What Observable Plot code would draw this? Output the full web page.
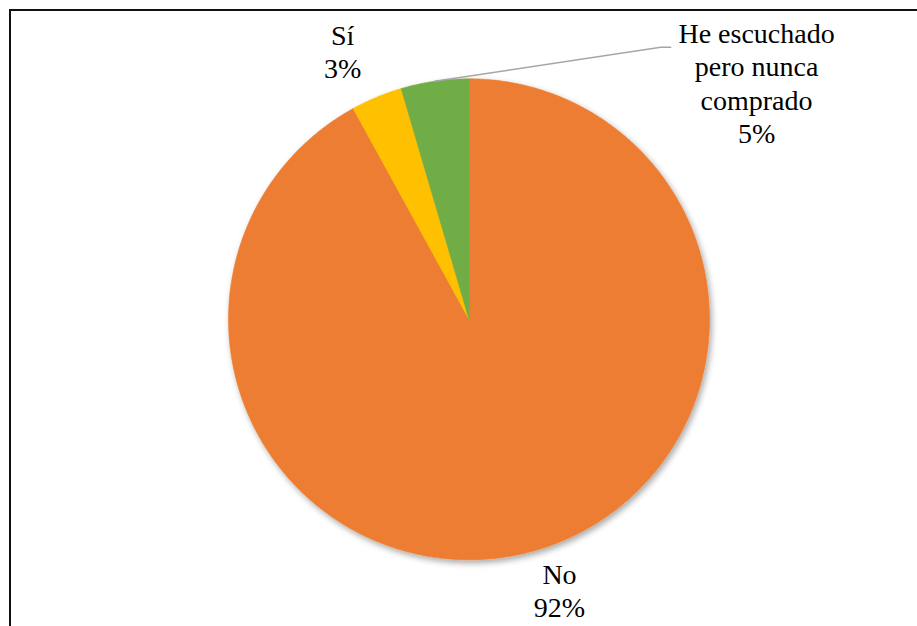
<!DOCTYPE html>
<html>
<head>
<meta charset="utf-8">
<script src="https://cdn.jsdelivr.net/npm/d3@7"></script>
<script src="https://cdn.jsdelivr.net/npm/@observablehq/plot@0.6"></script>
<style>
  html, body { margin: 0; padding: 0; width: 917px; height: 626px; overflow: hidden; background: #fff;
    font-family: "Liberation Serif", "Times New Roman", Tinos, "DejaVu Serif", serif; }
  #frame { position: absolute; left: 9px; top: 9px; width: 1200px; height: 1200px; border: 2px solid #111; }
  #chart { position: absolute; left: 0; top: 0; }
  #chart svg text { font-family: "Liberation Serif", "Times New Roman", Tinos, "DejaVu Serif", serif !important; }
</style>
</head>
<body>
<div id="frame"></div>
<div id="chart"></div>
<script>
// ---- data ----
const names = ["No", "Sí", "He escuchado pero nunca comprado"];
const labelLines = [["No"], ["Sí"], ["He escuchado", "pero nunca", "comprado"]];
const values = [92.0, 3.45, 4.55];
const colors = ["#ED7D31", "#FFC000", "#70AD47"];

// ---- layout ----
const W = 917, H = 626, CX = 468.5, CY = 318.8, R = 240.5;
const LINE = 33.3; // px between label lines
const labelOffsets = [[30.7, 12], [-34, -72], [321.8, -58]]; // px from slice edge midpoint
const leaderIndex = 2;
const leaderBend = [[226, -34], [236, -34]]; // px from slice edge midpoint
const FONT = "'Liberation Serif', 'Times New Roman', Tinos, 'DejaVu Serif', serif";

const total = d3.sum(values);
const arcs = d3.pie().sort(null).value(d => d)(values);

const slices = arcs.map((a, i) => ({
  name: names[i],
  color: colors[i],
  lines: [...labelLines[i], `${Math.round(values[i] / total * 100)}%`],
  a0: a.startAngle, a1: a.endAngle, mid: (a.startAngle + a.endAngle) / 2
}));

function slicePoints(s) {
  const n = Math.max(2, Math.ceil((s.a1 - s.a0) / (Math.PI / 360)));
  const pts = [{x: 0, y: 0}];
  for (let k = 0; k <= n; k++) {
    const t = s.a0 + (s.a1 - s.a0) * k / n;
    pts.push({x: Math.sin(t), y: Math.cos(t)});
  }
  pts.push({x: 0, y: 0});
  return pts;
}

const edge = s => ({x: Math.sin(s.mid), y: Math.cos(s.mid)});

function render() {
  const ls = slices[leaderIndex], le = edge(ls);
  const leader = [le, ...leaderBend.map(([dx, dy]) => ({x: le.x + dx / R, y: le.y - dy / R}))];

  const sliceMarks = slices.map(s => Plot.line(slicePoints(s), {
    x: "x", y: "y", fill: s.color, stroke: s.color, strokeWidth: 0.6
  }));

  const textMarks = slices.flatMap((s, i) => s.lines.map((line, k) => Plot.text([s], {
    x: d => edge(d).x, y: d => edge(d).y, text: () => line,
    dx: labelOffsets[i][0], dy: labelOffsets[i][1] + k * LINE,
    textAnchor: "middle", lineAnchor: "top",
    fontSize: 28, fill: "#000", fontFamily: FONT
  })));

  const plot = Plot.plot({
    width: W, height: H,
    margin: 0,
    x: {domain: [-1, 1], range: [CX - R, CX + R], axis: null},
    y: {domain: [-1, 1], range: [CY + R, CY - R], axis: null},
    marks: [
      ...sliceMarks,
      Plot.line(leader, {x: "x", y: "y", stroke: "#A6A6A6", strokeWidth: 1.4}),
      ...textMarks
    ]
  });

  const svg = d3.select(plot);
  svg.attr("font-family", FONT);
  svg.append("style").text(`text { font-family: ${FONT} !important; }`);
  svg.selectAll("text").style("font-family", FONT);

  // soft outer shadow behind the pie
  const defs = svg.append("defs");
  const f = defs.append("filter").attr("id", "pieShadow")
    .attr("x", "-20%").attr("y", "-20%").attr("width", "140%").attr("height", "140%");
  f.append("feGaussianBlur").attr("in", "SourceAlpha").attr("stdDeviation", 3).attr("result", "b");
  f.append("feOffset").attr("in", "b").attr("dx", 1.5).attr("dy", 2.5).attr("result", "o");
  f.append("feComponentTransfer").attr("in", "o").attr("result", "s")
    .append("feFuncA").attr("type", "linear").attr("slope", 0.35);
  const m = f.append("feMerge");
  m.append("feMergeNode").attr("in", "s");
  m.append("feMergeNode").attr("in", "SourceGraphic");
  const lineGroups = svg.selectAll('g[aria-label="line"]').nodes().slice(0, slices.length);
  if (lineGroups.length) {
    const wrapG = svg.insert("g", () => lineGroups[0]).attr("filter", "url(#pieShadow)");
    lineGroups.forEach(g => wrapG.node().appendChild(g));
  }

  const host = document.getElementById("chart");
  host.replaceChildren(plot);
}

render();
if (document.fonts && document.fonts.load) {
  document.fonts.load("28px 'Liberation Serif'").then(render, () => {});
}
</script>
</body>
</html>
